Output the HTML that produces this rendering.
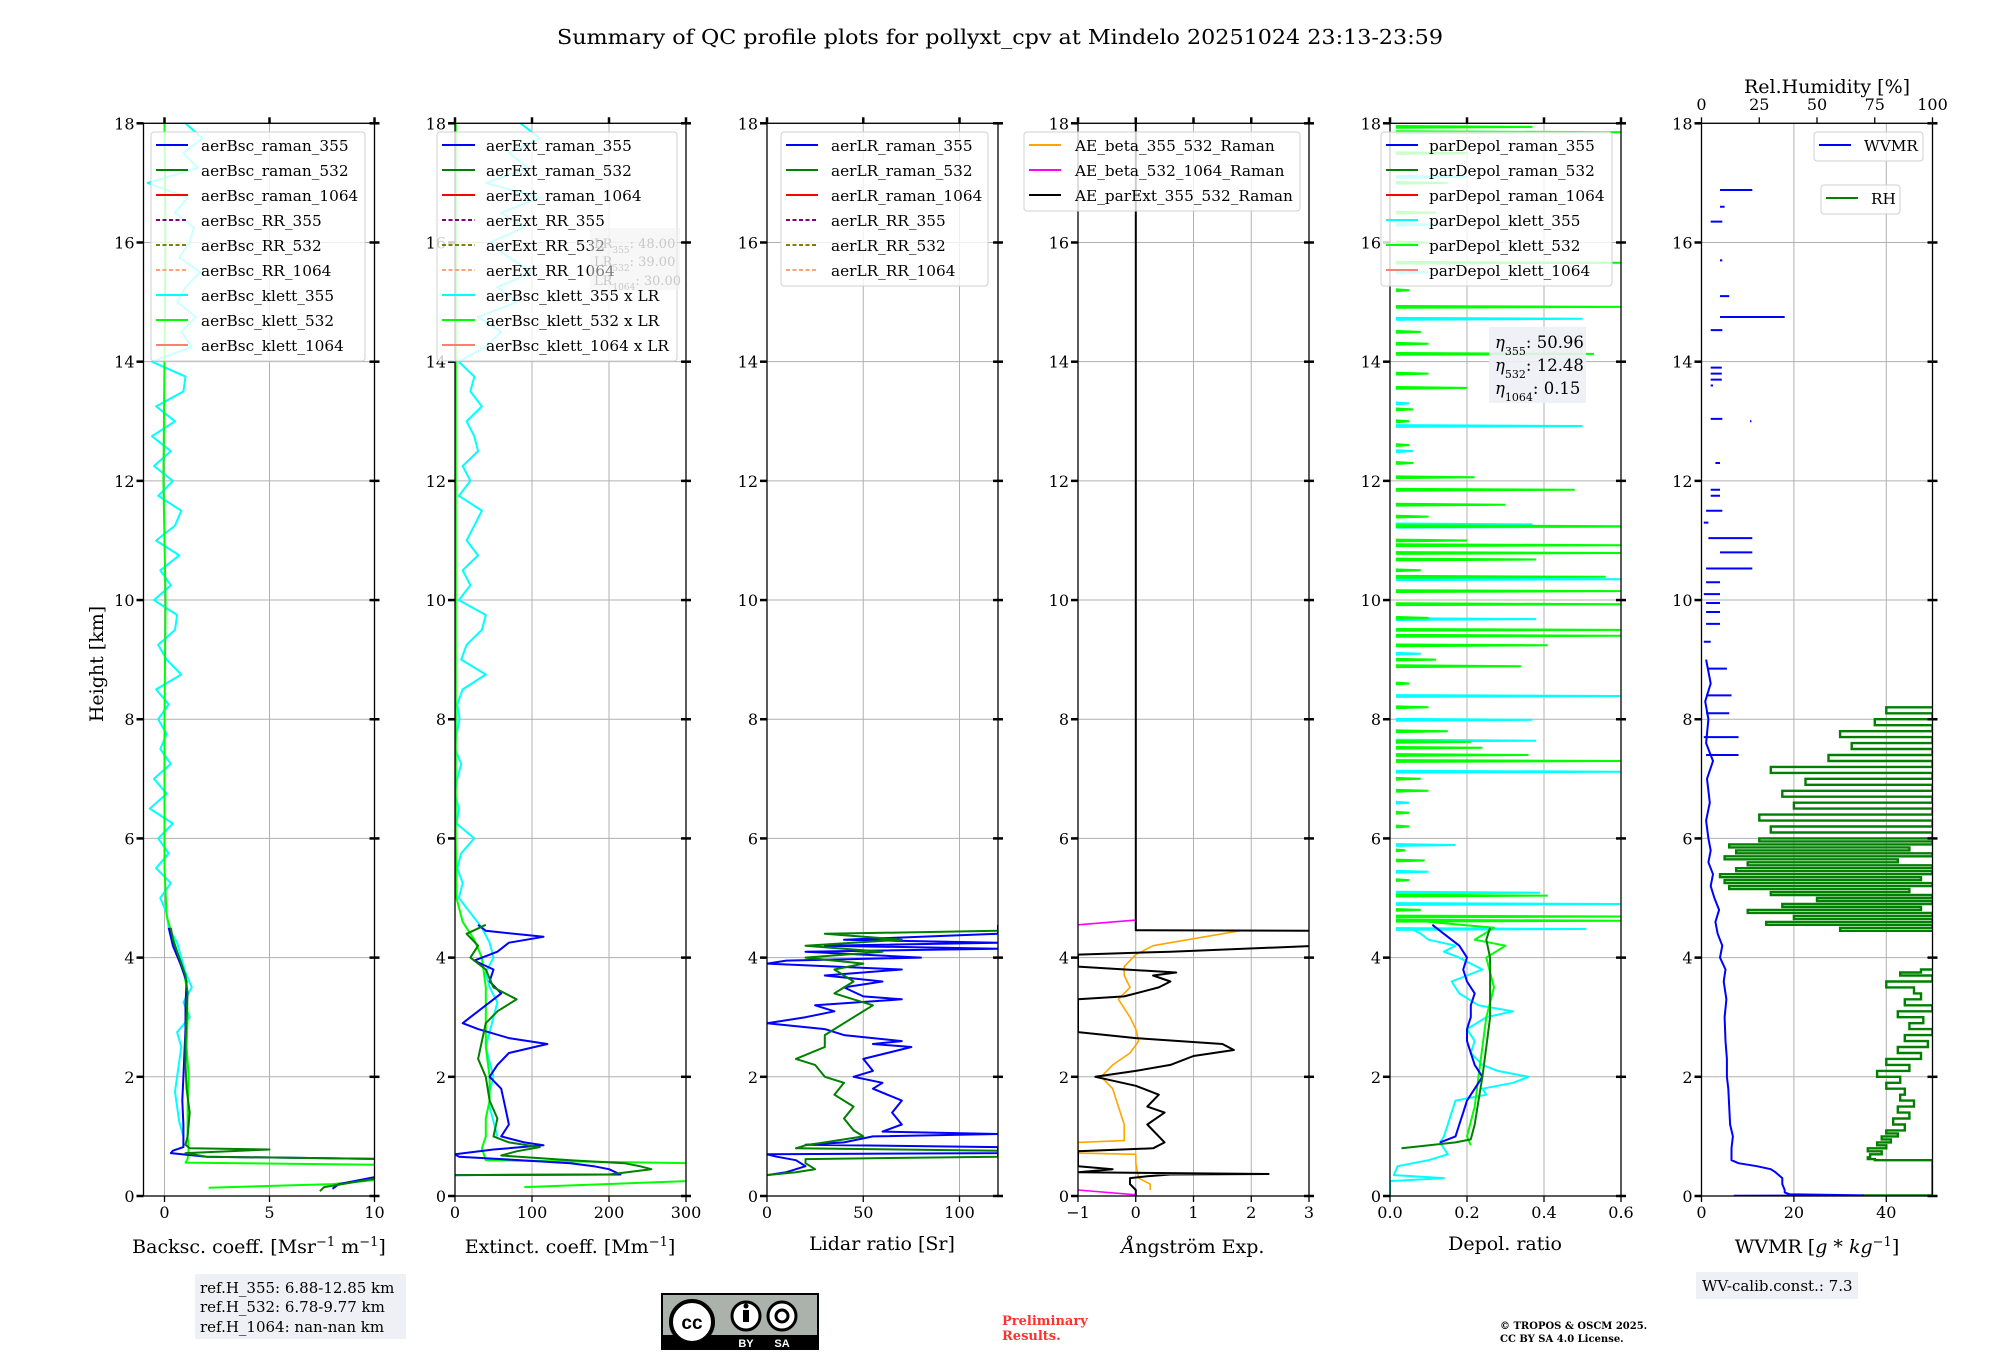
<!DOCTYPE html>
<html><head><meta charset="utf-8"><style>
html,body{margin:0;padding:0;background:#fff;}
svg{display:block;font-family:"DejaVu Serif","Liberation Serif",serif;}
</style></head><body>
<svg id="fig" width="2000" height="1360" viewBox="0 0 2000 1360" xmlns="http://www.w3.org/2000/svg">
<rect x="0" y="0" width="2000" height="1360" fill="#fff"/>
<text x="1000" y="44" text-anchor="middle" font-size="20.5" textLength="886" lengthAdjust="spacingAndGlyphs">Summary of QC profile plots for pollyxt_cpv at Mindelo 20251024 23:13-23:59</text>
<g id="grids"></g>
<g id="series"></g>
<g id="frames"></g>
<g id="legends"></g>
<text transform="translate(103,664) rotate(-90)" text-anchor="middle" font-size="19">Height [km]</text>
<text x="259" y="1253" text-anchor="middle" font-size="19">Backsc. coeff. [Msr<tspan baseline-shift="super" font-size="13">−1</tspan> m<tspan baseline-shift="super" font-size="13">−1</tspan>]</text>
<text x="570" y="1253" text-anchor="middle" font-size="19">Extinct. coeff. [Mm<tspan baseline-shift="super" font-size="13">−1</tspan>]</text>
<text x="882" y="1250" text-anchor="middle" font-size="19">Lidar ratio [Sr]</text>
<text x="1193" y="1253" text-anchor="middle" font-size="19"><tspan font-style="italic">Å</tspan>ngström Exp.</text>
<text x="1505" y="1250" text-anchor="middle" font-size="19">Depol. ratio</text>
<text x="1817" y="1253" text-anchor="middle" font-size="19">WVMR [<tspan font-style="italic">g</tspan> * <tspan font-style="italic">kg</tspan><tspan baseline-shift="super" font-size="13">−1</tspan>]</text>
<text x="1827" y="93" text-anchor="middle" font-size="19">Rel.Humidity [%]</text>

<g>
<rect x="590" y="228" width="90" height="62" fill="#f0f0f0" opacity="0.5"/>
<text x="594" y="248" font-size="13" fill="#c8c8c8">LR<tspan font-size="9" baseline-shift="sub">355</tspan>: 48.00</text>
<text x="594" y="266" font-size="13" fill="#c8c8c8">LR<tspan font-size="9" baseline-shift="sub">532</tspan>: 39.00</text>
<text x="594" y="285" font-size="13" fill="#c8c8c8">LR<tspan font-size="9" baseline-shift="sub">1064</tspan>: 30.00</text>
</g>
<g>
<rect x="1489" y="327" width="97" height="76" fill="#eef0f5" opacity="0.9"/>
<text x="1495" y="348" font-size="16.5"><tspan font-style="italic">η</tspan><tspan font-size="11" baseline-shift="sub">355</tspan>: 50.96</text>
<text x="1495" y="371" font-size="16.5"><tspan font-style="italic">η</tspan><tspan font-size="11" baseline-shift="sub">532</tspan>: 12.48</text>
<text x="1495" y="394" font-size="16.5"><tspan font-style="italic">η</tspan><tspan font-size="11" baseline-shift="sub">1064</tspan>: 0.15</text>
</g>
<g>
<rect x="195" y="1274" width="211" height="65" fill="#eef0f5"/>
<text x="200" y="1293" font-size="15">ref.H_355: 6.88-12.85 km</text>
<text x="200" y="1312" font-size="15">ref.H_532: 6.78-9.77 km</text>
<text x="200" y="1332" font-size="15">ref.H_1064: nan-nan km</text>
</g>
<g>
<rect x="1696" y="1272" width="162" height="27" fill="#eef0f5"/>
<text x="1702" y="1291" font-size="15">WV-calib.const.: 7.3</text>
</g>
<g>
<rect x="662" y="1294" width="156" height="55" fill="#aab2ab" stroke="#000" stroke-width="2"/>
<rect x="662" y="1335" width="156" height="14" fill="#000"/>
<circle cx="692" cy="1322" r="21" fill="#fff" stroke="#000" stroke-width="4"/>
<text x="692" y="1329" text-anchor="middle" font-size="19" font-weight="bold" font-family="Liberation Sans, sans-serif">cc</text>
<circle cx="746" cy="1316" r="14" fill="#fff" stroke="#000" stroke-width="3"/>
<rect x="743" y="1310" width="6" height="12" fill="#000"/>
<circle cx="746" cy="1306" r="2.5" fill="#000"/>
<circle cx="782" cy="1316" r="14" fill="#fff" stroke="#000" stroke-width="3"/>
<circle cx="782" cy="1316" r="6" fill="none" stroke="#000" stroke-width="3"/>
<text x="746" y="1347" text-anchor="middle" font-size="11" fill="#fff" font-weight="bold" font-family="Liberation Sans, sans-serif">BY</text>
<text x="782" y="1347" text-anchor="middle" font-size="11" fill="#fff" font-weight="bold" font-family="Liberation Sans, sans-serif">SA</text>
</g>
<text x="1002" y="1325" font-size="13" font-weight="bold" fill="#ff3030">Preliminary</text>
<text x="1002" y="1340" font-size="13" font-weight="bold" fill="#ff3030">Results.</text>
<text x="1500" y="1329" font-size="10" font-weight="bold">© TROPOS &amp; OSCM 2025.</text>
<text x="1500" y="1342" font-size="10" font-weight="bold">CC BY SA 4.0 License.</text>
</svg>
<script>
// ---------- data ----------
const gridH=[1.0,1.25,1.5,1.75,2.0,2.25,2.5,2.75,3.0,3.25,3.5,3.75,4.0,4.25,4.5,4.75,5.0,5.25,5.5,5.75,6.0,6.25,6.5,6.75,7.0,7.25,7.5,7.75,8.0,8.25,8.5,8.75,9.0,9.25,9.5,9.75,10.0,10.25,10.5,10.75,11.0,11.25,11.5,11.75,12.0,12.25,12.5,12.75,13.0,13.25,13.5,13.75,14.0,14.25,14.5,14.75,15.0,15.25,15.5,15.75,16.0,16.25,16.5,16.75,17.0,17.25,17.5,17.75,18.0];
// panel 1 backscatter
const b355RH=[0.12,0.2,0.33,0.45,0.55,0.62,0.66,0.72,0.76,0.82,0.9,1.2,1.6,2.0,2.4,2.8,3.2,3.6,3.9,4.2,4.5];
const b355RV=[8.0,8.3,10.2,11,11,11,2,0.3,0.4,0.9,0.9,0.9,0.85,0.9,0.95,1.0,1.0,1.05,0.75,0.4,0.2];
const b532RH=[0.08,0.15,0.3,0.45,0.55,0.62,0.66,0.72,0.78,0.8,0.86,1.0,1.4,1.8,2.2,2.6,3.0,3.4,3.7,4.0,4.3,4.5];
const b532RV=[7.4,7.6,10.2,11,11,11,2,1.0,5.0,1.2,1.0,1.1,1.2,1.05,1.0,1.0,1.05,1.1,1.0,0.7,0.4,0.3];
const b532KH=[0.14,0.2,0.3,0.45,0.52,0.56,0.62,0.8,1.0,1.5,2.0,2.5,3.0,3.5,3.8,4.1,4.4,4.7,5.5,6.5,8,10,12,14,16,18];
const b532KV=[2.1,8,11,11,11,1.0,1.1,1.15,1.1,1.1,1.15,1.05,1.1,1.05,0.9,0.6,0.35,0.1,0.0,0.0,0.0,0.05,-0.05,0.0,0.05,0.0];
const b355KV=[0.9,0.7,0.6,0.5,0.6,0.7,0.8,0.6,1.2,0.9,1.3,1.0,0.8,0.6,0.2,0.1,-0.2,0.3,-0.4,0.2,-0.3,0.4,-0.7,0.1,-0.5,0.3,-0.2,0.1,-0.3,0.2,-0.4,0.8,0.1,-0.3,0.5,0.6,-0.5,0.3,-0.2,0.7,-0.4,0.5,0.8,-0.3,0.4,-0.5,0.3,-0.6,0.5,-0.4,0.9,1.0,-0.6,1.3,0.8,1.5,0.6,1.0,1.7,0.7,1.2,1.4,0.5,1.1,-0.8,1.6,0.9,1.8,1.0];
// panel 2 extinction
const e355RH=[0.35,0.36,0.45,0.5,0.55,0.62,0.66,0.7,0.78,0.85,0.9,1.0,1.2,1.5,1.8,2.0,2.2,2.4,2.55,2.65,2.8,2.9,3.0,3.2,3.4,3.6,3.8,3.95,4.1,4.25,4.35,4.45,4.55];
const e355RV=[0,215,200,180,150,60,5,0,50,115,90,60,70,65,60,45,55,70,120,70,30,10,20,40,60,45,50,25,55,70,115,40,30];
const e532RH=[0.35,0.36,0.45,0.5,0.55,0.6,0.68,0.75,0.82,0.9,1.0,1.3,1.6,2.0,2.3,2.6,2.9,3.1,3.3,3.5,3.8,4.0,4.2,4.4,4.55];
const e532RV=[0,200,255,240,220,150,60,80,110,70,50,55,45,40,30,35,40,55,80,50,40,20,30,15,40];
const e532KH=[0.15,0.25,0.35,0.5,0.55,0.6,0.8,1.0,1.3,1.6,2.0,2.5,3.0,3.5,4.0,4.3,4.6,5.0,6,8,10,12,14,16,18];
const e532KV=[90,300,310,310,310,40,35,40,40,45,45,40,40,40,35,25,10,2,1,1,1,1,1,1,1];
const e355KV=[55,50,45,45,50,45,40,45,50,55,45,40,50,45,35,20,5,10,3,8,25,2,5,0,3,8,0,2,6,3,10,40,8,15,35,40,5,20,10,30,15,25,35,5,20,10,30,25,15,35,20,25,5,40,60,30,80,55,100,70,45,90,60,110,40,95,70,110,85];
// panel 3 lidar ratio
const lr355H=[0.35,0.4,0.5,0.6,0.66,0.7,0.72,0.76,0.82,0.86,0.9,1.0,1.04,1.08,1.2,1.4,1.6,1.8,1.9,2.0,2.1,2.3,2.5,2.55,2.6,2.7,2.8,2.9,3.0,3.1,3.2,3.3,3.35,3.5,3.6,3.7,3.8,3.9,3.95,4.0,4.1,4.15,4.2,4.25,4.3,4.4,4.5,4.55];
const lr355V=[0,10,20,15,5,0,120,120,120,20,40,55,120,60,70,65,70,55,60,45,55,50,75,55,70,40,30,0,20,35,25,70,50,40,60,30,70,0,10,80,20,120,30,120,40,120,120,120];
const lr532H=[0.35,0.4,0.45,0.55,0.62,0.66,0.7,0.76,0.8,0.85,0.9,1.0,1.1,1.3,1.5,1.7,1.9,2.0,2.2,2.3,2.5,2.7,2.9,3.0,3.2,3.4,3.6,3.8,3.9,4.0,4.1,4.2,4.3,4.4,4.45];
const lr532V=[0,15,25,20,20,120,120,120,15,20,30,50,45,40,45,35,40,30,25,15,30,30,40,45,55,35,45,35,50,20,60,20,70,30,120];
// panel 4 angstrom
const aeExtH=[0.0,0.05,0.1,0.2,0.3,0.33,0.36,0.37,0.4,0.45,0.5,0.55,0.75,0.8,0.9,1.0,1.2,1.4,1.5,1.7,1.85,2.0,2.1,2.2,2.35,2.45,2.55,2.65,2.75,3.3,3.35,3.5,3.6,3.7,3.75,3.85,4.05,4.1,4.2,4.25,4.45,4.46,18];
const aeExtV=[0,0,0,-0.1,-0.1,0.2,0.6,2.3,-1,-0.4,-1,-1,-1,0.3,0.5,0.4,0.2,0.5,0.2,0.4,0.0,-0.7,0.0,0.6,1.0,1.7,1.5,0.0,-1,-1,-0.2,0.4,0.6,0.3,0.7,-1,-1,0.6,3.2,3.2,3.2,0,0];
const aeBetaH=[0.1,0.2,0.3,0.55,0.7,0.72,0.9,0.93,1.2,1.5,1.8,2.0,2.2,2.4,2.6,2.8,3.0,3.3,3.5,3.7,3.85,3.95,4.05,4.2,4.3,4.45];
const aeBetaV=[0.25,0.25,0.05,0.0,0.0,-1,-1,-0.2,-0.2,-0.3,-0.4,-0.6,-0.4,-0.1,0.05,0.0,-0.1,-0.3,-0.1,-0.2,-0.2,-0.1,0.0,0.3,0.9,1.8];
const aeB1064LowH=[0.02,0.1];
const aeB1064LowV=[0,-1];
const aeB1064HighH=[4.55,4.63];
const aeB1064HighV=[-1,0];
// panel 5 depol
const dep355RH=[0.9,1.0,1.2,1.4,1.6,1.8,2.0,2.2,2.4,2.6,2.8,3.0,3.2,3.4,3.6,3.8,4.0,4.2,4.4,4.55];
const dep355RV=[0.13,0.17,0.18,0.19,0.2,0.22,0.24,0.22,0.21,0.2,0.2,0.21,0.21,0.22,0.2,0.19,0.2,0.18,0.14,0.11];
const dep532RH=[0.8,0.9,0.95,1.2,1.6,2.0,2.5,3.0,3.5,4.0,4.3,4.5];
const dep532RV=[0.03,0.17,0.21,0.22,0.23,0.24,0.25,0.26,0.26,0.26,0.25,0.26];
const dep532KH=[0.85,1.0,1.5,2.0,2.5,3.0,3.5,4.0,4.2,4.3,4.5,4.6];
const dep532KV=[0.21,0.2,0.22,0.23,0.24,0.25,0.27,0.25,0.3,0.22,0.27,0.1];
const dep355KH=[0.0,0.25,0.3,0.35,0.5,0.6,0.7,0.8,0.9,1.0,1.2,1.4,1.6,1.7,1.8,1.9,2.0,2.1,2.2,2.4,2.6,2.8,3.0,3.1,3.2,3.4,3.6,3.7,3.8,3.9,4.0,4.1,4.2,4.3,4.4,4.5];
const dep355KV=[0.0,0.0,0.14,0.01,0.02,0.1,0.15,0.14,0.13,0.14,0.15,0.16,0.17,0.25,0.24,0.32,0.36,0.28,0.24,0.21,0.22,0.2,0.25,0.32,0.23,0.18,0.16,0.2,0.24,0.21,0.18,0.14,0.17,0.1,0.08,0.05];
const limeSpikeH=[17.94,17.85,15.66,14.92,14.13,13.56,12.06,11.85,11.6,11.24,10.92,10.79,10.68,10.39,10.15,9.93,9.5,9.4,9.24,8.89,7.62,7.52,7.4,7.3,6.43,5.63,5.04,4.69,4.62,4.8,5.3,5.8,6.2,6.8,7.0,7.8,8.2,8.6,9.0,9.7,10.5,11.0,11.4,12.3,12.6,13.0,13.2,13.8,14.3,14.5,15.2,16.0,16.5,17.0,17.5];
const limeSpikeV=[0.37,0.6,0.6,0.6,0.53,0.2,0.22,0.48,0.3,0.6,0.6,0.6,0.38,0.56,0.6,0.6,0.6,0.6,0.41,0.34,0.21,0.24,0.36,0.6,0.05,0.09,0.41,0.6,0.6,0.08,0.05,0.04,0.05,0.1,0.08,0.15,0.1,0.05,0.12,0.1,0.08,0.2,0.1,0.06,0.05,0.05,0.06,0.1,0.1,0.08,0.05,0.1,0.12,0.15,0.2];
const cyanSpikeH=[14.72,12.92,11.27,11.23,10.35,9.68,8.39,7.99,7.64,7.12,5.89,5.44,5.09,4.9,4.48,15.5,16.3,17.1,13.3,12.5,9.1,6.6];
const cyanSpikeV=[0.5,0.5,0.37,0.6,0.6,0.38,0.6,0.37,0.38,0.6,0.17,0.1,0.39,0.6,0.51,0.1,0.12,0.2,0.05,0.06,0.08,0.05];
const spikeBase=0.015;
// panel 6 water vapour & RH
const wvH=[0.005,0.01,0.03,0.06,0.1,0.2,0.3,0.4,0.45,0.5,0.55,0.6,0.8,1.0,1.2,1.5,1.8,2.0,2.3,2.6,3.0,3.3,3.6,3.8,4.0,4.2,4.4,4.6,4.8,5.0,5.2,5.4,5.6,5.8,6.0,6.3,6.6,7.0,7.3,7.6,8.0,8.3,8.6,9.0];
const wvV=[7,35,19,18,18,17.5,17.5,16,15,12,8,6.5,6.5,6.8,6.2,6.0,5.8,5.5,5.5,5.2,5.0,5.4,4.8,5.2,4.0,4.5,3.5,3.0,3.8,2.8,2.0,2.5,1.5,2.0,1.5,1.0,1.8,1.2,2.5,1.0,1.5,0.8,2.0,1.0];
const wvDashH=[16.88,16.6,16.35,15.7,15.1,14.75,14.53,13.9,13.8,13.7,13.6,13.0,13.04,12.3,11.85,11.75,11.5,11.3,11.04,10.8,10.53,10.3,10.1,9.95,9.8,9.6,9.3,8.85,8.4,8.1,7.7,7.4];
const wvDashFrom=[4,4,2,4,4,4,2,2,2,2,2,10.5,2,3,2,2,1,0.5,1.5,4,1,1,0.5,1,1,1,0.5,1.5,1,1,0.5,1];
const wvDashTo=[11,5,4.5,4.5,6,18,4.5,4.4,4.4,4.4,2.5,10.8,4.5,4,4,4,4.5,1.5,11,11,11,4,4,4,4,4,2,5.5,6.5,6,8,8];
const rhH=[0.005,0.01,0.58,0.6,0.62,0.65,0.7,0.75,0.8,0.85,0.9,0.95,1.0,1.05,1.1,1.2,1.3,1.4,1.5,1.6,1.7,1.8,1.9,2.0,2.1,2.2,2.3,2.4,2.5,2.6,2.7,2.8,2.9,3.0,3.1,3.2,3.3,3.4,3.5,3.6,3.7,3.75,3.8,4.4,4.45,4.5,4.55,4.6,4.65,4.7,4.75,4.8,4.85,4.9,4.95,5.0,5.05,5.1,5.15,5.2,5.25,5.3,5.35,5.4,5.45,5.5,5.55,5.6,5.65,5.7,5.75,5.8,5.85,5.9,5.95,6.0,6.1,6.2,6.3,6.4,6.5,6.6,6.7,6.8,6.9,7.0,7.1,7.2,7.3,7.4,7.5,7.6,7.7,7.8,7.9,8.0,8.1,8.2];
const rhV=[70,100,100,75,72,73,78,72,80,76,82,78,85,80,88,83,90,85,92,86,88,80,86,76,90,80,95,85,98,88,100,90,96,85,100,88,95,92,80,100,86,95,110,110,60,100,28,100,40,100,20,95,35,100,50,100,30,90,12,100,10,95,8,100,15,100,20,85,10,100,15,90,12,100,25,100,30,100,25,100,40,100,35,100,45,100,30,100,55,100,65,100,60,100,75,100,80,100];
// axis ticks
const yTicks=[0,2,4,6,8,10,12,14,16,18];
const xTicks1=[0,5,10], xTicks2=[0,100,200,300], xTicks3=[0,50,100], xTicks4=[-1,0,1,2,3], xTicks5=[0.0,0.2,0.4,0.6], xTicks6=[0,20,40], rhTicks=[0,25,50,75,100];
const xTickLabels5=["0.0","0.2","0.4","0.6"];
const xTickLabels4=["−1","0","1","2","3"];

// ---------- layout ----------
const NS="http://www.w3.org/2000/svg";
const TOP=123.3, BOT=1196, W=231;
const panels=[
 {L:143.5,min:-1,max:10,ticks:xTicks1,name:'backscatter'},
 {L:455,min:0,max:300,ticks:xTicks2,name:'extinction'},
 {L:767,min:0,max:120,ticks:xTicks3,name:'lidar-ratio'},
 {L:1078,min:-1,max:3,ticks:xTicks4,labels:xTickLabels4,name:'angstrom'},
 {L:1390,min:0,max:0.6,ticks:xTicks5,labels:xTickLabels5,name:'depol'},
 {L:1701.5,min:0,max:50,ticks:xTicks6,name:'wvmr'}];
const rhAxis={min:0,max:100};
function yS(h){return BOT-h*(BOT-TOP)/18;}
function xS(p,v){const P=panels[p];return P.L+(v-P.min)/(P.max-P.min)*W;}
function xRH(v){return panels[5].L+(v-rhAxis.min)/(rhAxis.max-rhAxis.min)*W;}
function mk(tag,attrs,parent){const e=document.createElementNS(NS,tag);for(const k in attrs)e.setAttribute(k,attrs[k]);parent.appendChild(e);return e;}
const gG=document.getElementById('grids'),gS=document.getElementById('series'),gF=document.getElementById('frames'),gL=document.getElementById('legends');
const defs=mk('defs',{},document.getElementById('fig'));
panels.forEach((P,i)=>{const c=mk('clipPath',{id:'clip'+i},defs);mk('rect',{x:P.L,y:TOP,width:W,height:BOT-TOP},c);});

panels.forEach((P,i)=>{
  yTicks.forEach(t=>{const l=mk('line',{x1:P.L,x2:P.L+W,y1:yS(t),y2:yS(t),stroke:'#b0b0b0','stroke-width':1},gG);
    
    });
  P.ticks.forEach(t=>{const l=mk('line',{x1:xS(i,t),x2:xS(i,t),y1:TOP,y2:BOT,stroke:'#b0b0b0','stroke-width':1},gG);
    
    });
  const fr=mk('rect',{x:P.L,y:TOP,width:W,height:BOT-TOP,fill:'none',stroke:'#000','stroke-width':1.3},gF);
  
  
  yTicks.forEach(t=>{
    mk('line',{x1:P.L-7,x2:P.L,y1:yS(t),y2:yS(t),stroke:'#000','stroke-width':2.5},gF);
    mk('line',{x1:P.L+W-5,x2:P.L+W+5,y1:yS(t),y2:yS(t),stroke:'#000','stroke-width':2.5},gF);
    const tx=mk('text',{x:P.L-9,y:yS(t)+6,'text-anchor':'end','font-size':16},gF);
    
    
    tx.textContent=t;});
  P.ticks.forEach((t,k)=>{
    const x=xS(i,t);
    mk('line',{x1:x,x2:x,y1:BOT,y2:BOT+6,stroke:'#000','stroke-width':1.3},gF);
    if(i!==5) mk('line',{x1:x,x2:x,y1:TOP-6,y2:TOP,stroke:'#000','stroke-width':2.5},gF);
    const tx=mk('text',{x:x,y:1218,'text-anchor':'middle','font-size':16},gF);
    
    
    tx.textContent=P.labels?P.labels[k]:t;});
});
rhTicks.forEach(t=>{const x=xRH(t);
  mk('line',{x1:x,x2:x,y1:TOP-6,y2:TOP,stroke:'#000','stroke-width':1.3},gF);
  const tx=mk('text',{x:x,y:110,'text-anchor':'middle','font-size':16},gF);
  
  
  tx.textContent=t;});

function line(p,hs,vs,color,w,name,opacity,xf){
  const f=xf||(v=>xS(p,v));
  const pts=hs.map((h,k)=>f(vs[k]).toFixed(1)+','+yS(h).toFixed(1)).join(' ');
  const e=mk('polyline',{points:pts,fill:'none',stroke:color,'stroke-width':w,'stroke-linejoin':'round','clip-path':'url(#clip'+p+')',opacity:opacity||1},gS);
  
  
  return e;}
function stepLine(p,hs,vs,color,w,name,xf){
  let d='M'+xf(vs[0]).toFixed(1)+','+yS(hs[0]).toFixed(1);
  for(let k=1;k<hs.length;k++){d+='L'+xf(vs[k-1]).toFixed(1)+','+yS(hs[k]).toFixed(1)+'L'+xf(vs[k]).toFixed(1)+','+yS(hs[k]).toFixed(1);}
  const e=mk('path',{d:d,fill:'none',stroke:color,'stroke-width':w,'clip-path':'url(#clip'+p+')'},gS);
  
  }
function spikes(p,hs,vs,color,name){
  let d='';hs.forEach((h,k)=>{d+='M'+xS(p,spikeBase).toFixed(1)+','+yS(h-0.015).toFixed(1)+'L'+xS(p,vs[k]).toFixed(1)+','+yS(h).toFixed(1)+'L'+xS(p,spikeBase).toFixed(1)+','+yS(h+0.015).toFixed(1);});
  const e=mk('path',{d:d,fill:'none',stroke:color,'stroke-width':2,'clip-path':'url(#clip'+p+')'},gS);
  
  }

line(0,gridH,b355KV,'#00ffff',2,'aerBsc-klett-355-line');
line(0,b532KH,b532KV,'#00ff00',2,'aerBsc-klett-532-line');
line(0,b355RH,b355RV,'#0000ff',2,'aerBsc-raman-355-line');
line(0,b532RH,b532RV,'#008000',2,'aerBsc-raman-532-line');
line(1,gridH,e355KV,'#00ffff',2,'aerBsc-klett-355-xLR-line');
line(1,e532KH,e532KV,'#00ff00',2,'aerBsc-klett-532-xLR-line');
line(1,e355RH,e355RV,'#0000ff',2,'aerExt-raman-355-line');
line(1,e532RH,e532RV,'#008000',2,'aerExt-raman-532-line');
line(2,lr355H,lr355V,'#0000ff',2,'aerLR-raman-355-line');
line(2,lr532H,lr532V,'#008000',2,'aerLR-raman-532-line');
line(3,aeBetaH,aeBetaV,'#ffa500',1.6,'AE-beta-355-532-line');
line(3,aeB1064LowH,aeB1064LowV,'#ff00ff',1.6,'AE-beta-532-1064-low-line');
line(3,aeB1064HighH,aeB1064HighV,'#ff00ff',1.6,'AE-beta-532-1064-high-line');
line(3,aeExtH,aeExtV,'#000000',2,'AE-parExt-355-532-line');
spikes(4,cyanSpikeH,cyanSpikeV,'#00ffff','parDepol-klett-355-spikes');
spikes(4,limeSpikeH,limeSpikeV,'#00ff00','parDepol-klett-532-spikes');
line(4,dep355KH,dep355KV,'#00ffff',2,'parDepol-klett-355-line');
line(4,dep532KH,dep532KV,'#00ff00',2,'parDepol-klett-532-line');
line(4,dep355RH,dep355RV,'#0000ff',2,'parDepol-raman-355-line');
line(4,dep532RH,dep532RV,'#008000',2,'parDepol-raman-532-line');
stepLine(5,rhH,rhV,'#008000',2.4,'RH-line',xRH);
line(5,wvH,wvV,'#0000ff',2,'WVMR-line');
(function(){let d='';wvDashH.forEach((h,k)=>{d+='M'+xS(5,wvDashFrom[k]).toFixed(1)+','+yS(h).toFixed(1)+'H'+xS(5,wvDashTo[k]).toFixed(1);});
 const e=mk('path',{d:d,stroke:'#0000ff','stroke-width':2,fill:'none','clip-path':'url(#clip5)'},gS);
 
 })();

function legend(x0,x1,y0,entries,lx0,lx1,tx,name){
  const g=mk('g',{},gL);
  
  
  const h=entries.length*25+8;
  mk('rect',{x:x0,y:y0,width:x1-x0,height:h-4,rx:3,fill:'#fff','fill-opacity':0.8,stroke:'#d0d0d0','stroke-width':1},g);
  entries.forEach((en,k)=>{const cy=y0+13+k*25;
    const ln=mk('line',{x1:lx0,x2:lx1,y1:cy,y2:cy,stroke:en[1],'stroke-width':2},g);
    if(en[2])ln.setAttribute('stroke-dasharray','4,2.5');
    const t=mk('text',{x:tx,y:cy+6,'font-size':15.3},g);
    
    
    t.textContent=en[0];});}
legend(151,365,132,[['aerBsc_raman_355','#0000ff'],['aerBsc_raman_532','#008000'],['aerBsc_raman_1064','#ff0000'],['aerBsc_RR_355','#800080',1],['aerBsc_RR_532','#808000',1],['aerBsc_RR_1064','#ffa07a',1],['aerBsc_klett_355','#00ffff'],['aerBsc_klett_532','#00ff00'],['aerBsc_klett_1064','#fa8072']],156,188,201,'backscatter-legend');
legend(437,677,132,[['aerExt_raman_355','#0000ff'],['aerExt_raman_532','#008000'],['aerExt_raman_1064','#ff0000'],['aerExt_RR_355','#800080',1],['aerExt_RR_532','#808000',1],['aerExt_RR_1064','#ffa07a',1],['aerBsc_klett_355 x LR','#00ffff'],['aerBsc_klett_532 x LR','#00ff00'],['aerBsc_klett_1064 x LR','#fa8072']],442,475,486,'extinction-legend');
legend(781,988,132,[['aerLR_raman_355','#0000ff'],['aerLR_raman_532','#008000'],['aerLR_raman_1064','#ff0000'],['aerLR_RR_355','#800080',1],['aerLR_RR_532','#808000',1],['aerLR_RR_1064','#ffa07a',1]],786,818,831,'lidar-ratio-legend');
legend(1024,1300,132,[['AE_beta_355_532_Raman','#ffa500'],['AE_beta_532_1064_Raman','#ff00ff'],['AE_parExt_355_532_Raman','#000000']],1029,1061,1075,'angstrom-legend');
legend(1381,1612,132,[['parDepol_raman_355','#0000ff'],['parDepol_raman_532','#008000'],['parDepol_raman_1064','#ff0000'],['parDepol_klett_355','#00ffff'],['parDepol_klett_532','#00ff00'],['parDepol_klett_1064','#fa8072']],1386,1418,1429,'depol-legend');
legend(1814,1923,132,[['WVMR','#0000ff']],1819,1851,1864,'wvmr-legend');
legend(1821,1900,185,[['RH','#008000']],1826,1858,1871,'rh-legend');
</script>
</body></html>
